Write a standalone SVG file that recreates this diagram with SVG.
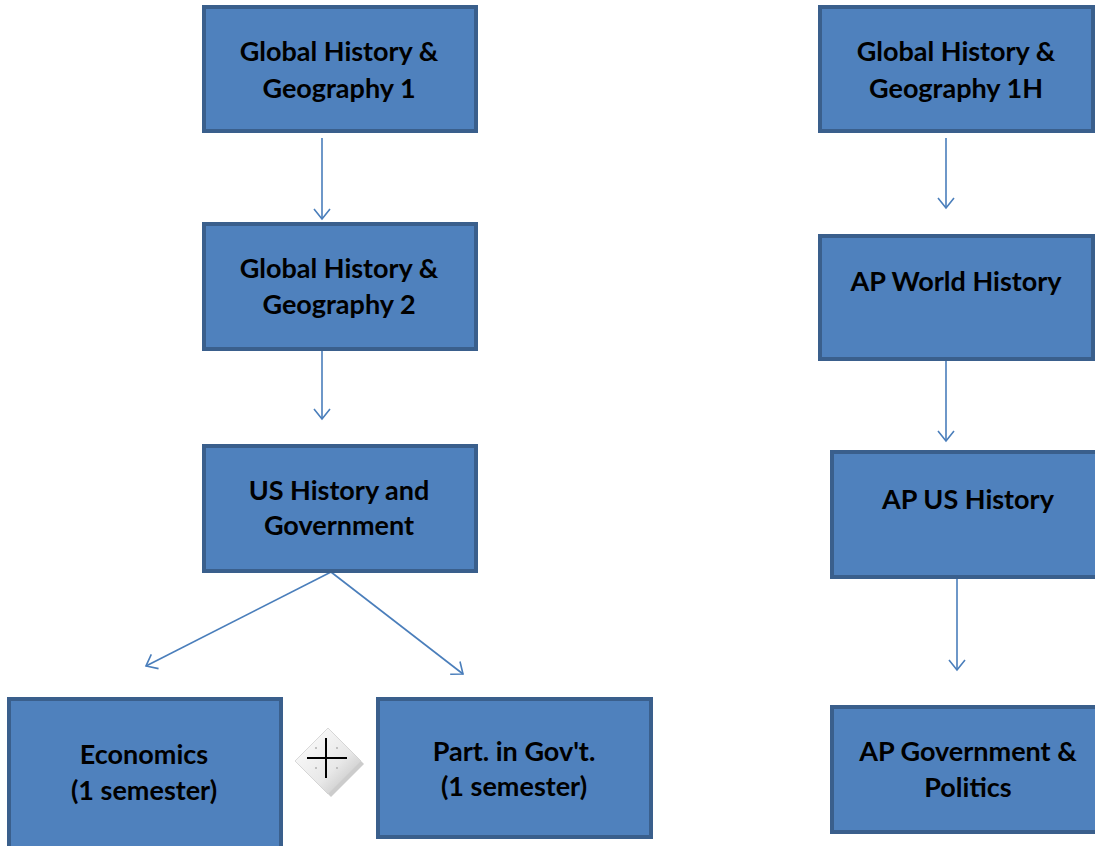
<svg xmlns="http://www.w3.org/2000/svg" width="1095" height="846" viewBox="0 0 1095 846">
<defs>
<style>
.box{fill:#4F81BD;stroke:#3A5F8C;stroke-width:4}
.t{font-family:Lato,"Liberation Sans",sans-serif;font-weight:bold;font-size:27px;fill:#000;text-anchor:middle}
.c{stroke:#4A7EBB;stroke-width:1.6;fill:none}
</style>
<marker id="ah" viewBox="0 0 20 20" refX="18" refY="10" markerWidth="20" markerHeight="20" markerUnits="userSpaceOnUse" orient="auto">
<path d="M8,2 L18,10 L8,18" fill="none" stroke="#4A7EBB" stroke-width="1.6"/>
</marker>
<linearGradient id="dg" x1="0" y1="0" x2="1" y2="1">
<stop offset="0" stop-color="#ffffff"/>
<stop offset="0.6" stop-color="#e8e8e8"/>
<stop offset="1" stop-color="#b8b8b8"/>
</linearGradient>
</defs>
<rect width="1095" height="846" fill="#fff"/>
<g id="connectors">
<line class="c" x1="322" y1="138" x2="322" y2="219" marker-end="url(#ah)"/>
<line class="c" x1="322" y1="350" x2="322" y2="419" marker-end="url(#ah)"/>
<line class="c" x1="331" y1="572" x2="146" y2="666" marker-end="url(#ah)"/>
<line class="c" x1="331" y1="572" x2="463" y2="674" marker-end="url(#ah)"/>
<line class="c" x1="946" y1="138" x2="946" y2="208" marker-end="url(#ah)"/>
<line class="c" x1="946" y1="360" x2="946" y2="441" marker-end="url(#ah)"/>
<line class="c" x1="957" y1="578" x2="957" y2="670" marker-end="url(#ah)"/>
</g>
<g id="n1"><rect class="box" x="204" y="7" width="272" height="124"/><text class="t" x="339" y="61">Global History &amp;</text><text class="t" x="339" y="98">Geography 1</text></g>
<g id="n2"><rect class="box" x="204" y="224" width="272" height="125"/><text class="t" x="339" y="278">Global History &amp;</text><text class="t" x="339" y="314">Geography 2</text></g>
<g id="n3"><rect class="box" x="204" y="446" width="272" height="125"/><text class="t" x="339" y="500">US History and</text><text class="t" x="339" y="535">Government</text></g>
<g id="n4"><rect class="box" x="9" y="699" width="272" height="150"/><text class="t" x="144" y="764">Economics</text><text class="t" x="144" y="800">(1 semester)</text></g>
<g id="n5"><rect class="box" x="378" y="699" width="273" height="138"/><text class="t" x="514" y="761">Part. in Gov't.</text><text class="t" x="514" y="796">(1 semester)</text></g>
<g id="n6"><rect class="box" x="820" y="7" width="273" height="124"/><text class="t" x="956" y="61">Global History &amp;</text><text class="t" x="956" y="98">Geography 1H</text></g>
<g id="n7"><rect class="box" x="820" y="236" width="273" height="123"/><text class="t" x="956" y="291">AP World History</text></g>
<g id="n8"><rect class="box" x="832" y="452" width="270" height="125"/><text class="t" x="968" y="509">AP US History</text></g>
<g id="n9"><rect class="box" x="832" y="707" width="270" height="125"/><text class="t" x="968" y="761">AP Government &amp;</text><text class="t" x="968" y="797">Politics</text></g>
<g id="plus">
<path d="M331,731 L364,764 L331,797 L298,764 Z" fill="#9a9a9a" opacity="0.5"/>
<path d="M328,728 L361,761 L328,794 L295,761 Z" fill="url(#dg)" stroke="#d0d0d0" stroke-width="0.8"/>
<line x1="307" y1="758" x2="347" y2="758" stroke="#000" stroke-width="2"/>
<line x1="326" y1="738" x2="326" y2="778" stroke="#000" stroke-width="2"/>
<g fill="#b0b0b0"><circle cx="316" cy="748" r="1"/><circle cx="337" cy="748" r="1"/><circle cx="316" cy="768" r="1"/><circle cx="337" cy="768" r="1"/></g>
</g>
</svg>
